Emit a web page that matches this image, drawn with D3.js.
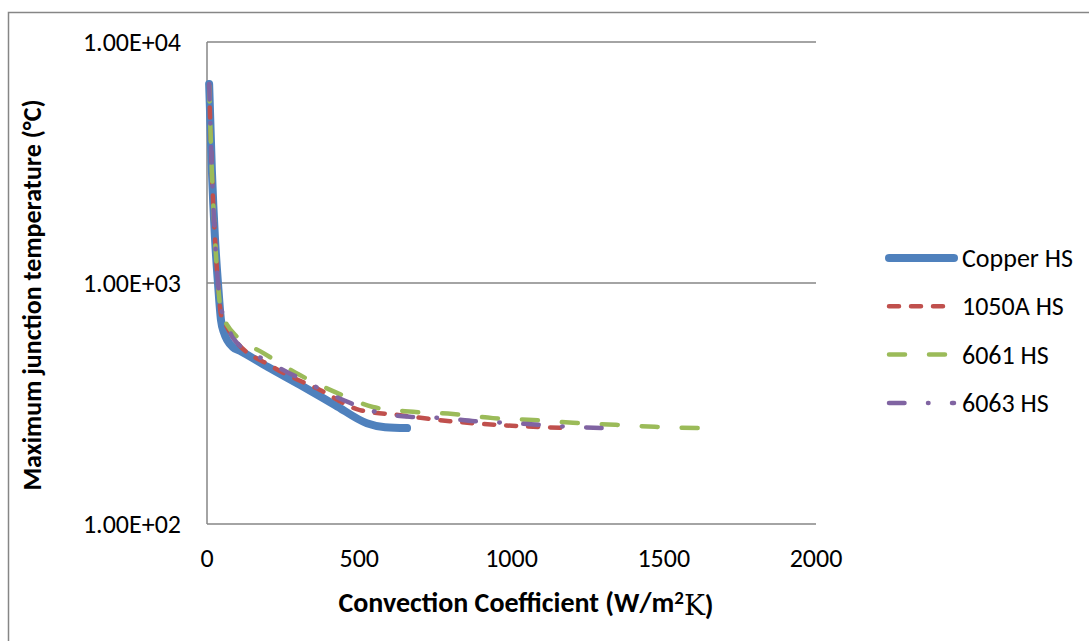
<!DOCTYPE html>
<html>
<head>
<meta charset="utf-8">
<script src="https://cdn.jsdelivr.net/npm/d3@7"></script>
<style>
  body { margin: 0; background: #fff; }
  svg { display: block; font-family: Carlito, Calibri, "Liberation Sans", Arial, sans-serif; }
</style>
</head>
<body>
<svg id="chart"></svg>
<script>
// convection coefficient (W/m2K) and max junction temperature (°C) per heat sink
const copperH = [7, 16, 26, 36, 46, 56, 85, 108, 200, 305, 420, 525, 585, 657];
const copperT = [6700, 2940, 1550, 1000, 700, 621, 542, 523, 448, 378, 312, 262, 252, 250];

const al1050H = [7, 16, 26, 36, 46, 59, 85, 217, 371, 502, 634, 798, 1018, 1186];
const al1050T = [6600, 2900, 1550, 1000, 740, 682, 597, 448, 360, 297, 283, 267, 255, 250];

const al6061H = [7, 16, 26, 36, 46, 66, 99, 184, 305, 427, 545, 677, 808, 939, 1071, 1202, 1340, 1471, 1642];
const al6061T = [6600, 2900, 1550, 1000, 760, 670, 597, 513, 415, 350, 306, 292, 286, 275, 270, 263, 258, 253, 250];

const al6063H = [7, 16, 26, 36, 46, 56, 85, 190, 296, 470, 568, 677, 775, 880, 985, 1087, 1192, 1307];
const al6063T = [6700, 2940, 1550, 1000, 780, 736, 592, 479, 407, 318, 289, 278, 275, 267, 263, 258, 253, 250];

const seriesNames = ["Copper HS", "1050A HS", "6061 HS", "6063 HS"];
const xTicks = [0, 500, 1000, 1500, 2000];
const yTicks = [100, 1000, 10000];
const yTickLabels = ["1.00E+02", "1.00E+03", "1.00E+04"];

const width = 1089;
const height = 641;
const margin = { top: 42, left: 207, right: 1089 - 816, bottom: 641 - 524 };

const svg = d3.select("#chart").attr("width", width).attr("height", height);

// chart area border
svg.append("rect")
  .attr("x", 8.5).attr("y", 12.5)
  .attr("width", 1200).attr("height", 800)
  .attr("fill", "none").attr("stroke", "#868686").attr("stroke-width", 1.5);

const x = d3.scaleLinear().domain([0, 2000]).range([margin.left, width - margin.right]);
const y = d3.scaleLog().domain([100, 10000]).range([height - margin.bottom, margin.top]);

// horizontal gridlines
svg.append("g")
  .selectAll("line")
  .data(yTicks)
  .join("line")
  .attr("x1", x(0)).attr("x2", x(2000))
  .attr("y1", (d) => y(d)).attr("y2", (d) => y(d))
  .attr("stroke", "#868686").attr("stroke-width", 1.5);

// vertical axis line
svg.append("line")
  .attr("x1", x(0)).attr("x2", x(0))
  .attr("y1", y(10000)).attr("y2", y(100))
  .attr("stroke", "#868686").attr("stroke-width", 1.5);

// tick labels
svg.append("g")
  .selectAll("text")
  .data(yTicks)
  .join("text")
  .attr("x", 181)
  .attr("y", (d) => y(d))
  .attr("dy", "0.35em")
  .attr("text-anchor", "end")
  .style("font-size", "26px")
  .attr("fill", "#000")
  .text((d, i) => yTickLabels[i]);

svg.append("g")
  .selectAll("text")
  .data(xTicks)
  .join("text")
  .attr("x", (d) => x(d))
  .attr("y", 558)
  .attr("dy", "0.35em")
  .attr("text-anchor", "middle")
  .style("font-size", "26px")
  .attr("fill", "#000")
  .text((d) => d);

// axis titles
const xTitle = svg.append("text")
  .attr("x", 526).attr("y", 602)
  .attr("dy", "0.35em")
  .attr("text-anchor", "middle")
  .style("font-size", "28px")
  .style("font-weight", "bold");
xTitle.append("tspan").text("Convection Coefficient (W/m");
xTitle.append("tspan").attr("dy", "-0.4em").style("font-size", "19px").text("2");
xTitle.append("tspan").attr("dy", "0.4em")
  .style("font-family", "'DejaVu Serif', 'Liberation Serif', serif").style("font-weight", "normal").text("K");
xTitle.append("tspan").text(")");

svg.append("text")
  .attr("transform", "translate(32, 295) rotate(-90)")
  .attr("dy", "0.35em")
  .attr("text-anchor", "middle")
  .style("font-size", "26px")
  .style("font-weight", "bold")
  .text("Maximum junction temperature (°C)");

// series
const series = [
  { name: seriesNames[0], h: copperH, t: copperT, color: "#4F81BD", w: 8, dash: null },
  { name: seriesNames[1], h: al1050H, t: al1050T, color: "#C0504D", w: 4.5, dash: "10 12" },
  { name: seriesNames[2], h: al6061H, t: al6061T, color: "#9BBB59", w: 4.5, dash: "16 24" },
  { name: seriesNames[3], h: al6063H, t: al6063T, color: "#8064A2", w: 4.5, dash: "15.5 23.5 0.5 23.5" },
];

const line = d3.line()
  .x((d) => x(d[0]))
  .y((d) => y(d[1]))
  .curve(d3.curveMonotoneX);

svg.append("g")
  .selectAll("path")
  .data(series)
  .join("path")
  .attr("d", (s) => line(s.h.map((v, i) => [v, s.t[i]])))
  .attr("fill", "none")
  .attr("stroke", (s) => s.color)
  .attr("stroke-width", (s) => s.w)
  .attr("stroke-dasharray", (s) => s.dash)
  .attr("stroke-linecap", "round")
  .attr("stroke-linejoin", "round");

// legend
const legend = svg.append("g")
  .selectAll("g")
  .data(series)
  .join("g")
  .attr("transform", (s, i) => `translate(0, ${258 + i * 48.3})`);

legend.append("line")
  .attr("x1", 889).attr("x2", 954)
  .attr("stroke", (s) => s.color)
  .attr("stroke-width", (s) => s.w)
  .attr("stroke-dasharray", (s) => s.dash)
  .attr("stroke-linecap", "round");

legend.append("text")
  .attr("x", 962)
  .attr("dy", "0.35em")
  .style("font-size", "26px")
  .text((s) => s.name);
</script>
</body>
</html>
